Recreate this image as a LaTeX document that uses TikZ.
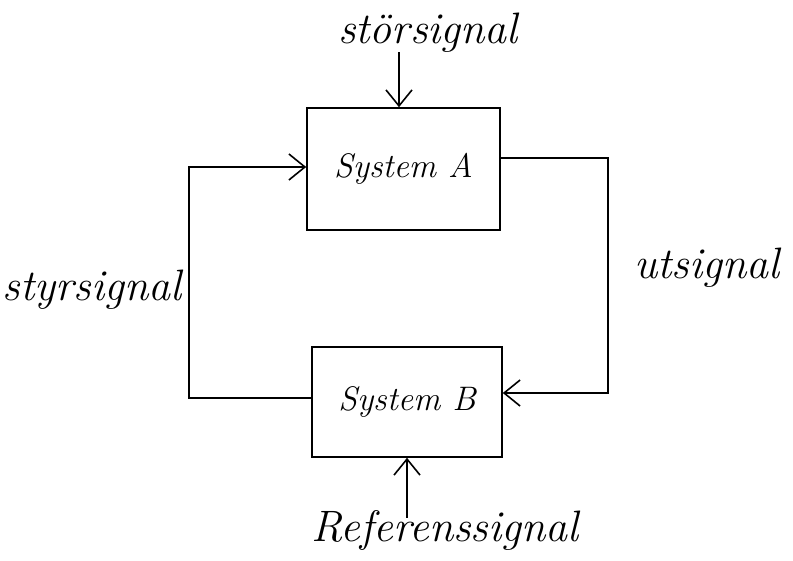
\documentclass[tikz,border=0pt]{standalone}
\usetikzlibrary{arrows.meta,positioning}

\begin{document}
\begin{tikzpicture}[x=1pt,y=-1pt,
    sysbox/.style={draw,line width=1.6pt,inner sep=0pt,
      font=\fontsize{34}{40}\selectfont\itshape},
    sigtext/.style={inner sep=0pt,font=\fontsize{44}{50}\selectfont\itshape},
    sig/.style={line width=1.6pt,
      -{Straight Barb[length=16pt,width=26pt]}}]
    \useasboundingbox (0,0) rectangle (793,560);

    \node[sysbox,minimum width=193pt,minimum height=122pt] (sysA)
      at (403.5,169) {System A};
    \node[sysbox,minimum width=190pt,minimum height=110pt] (sysB)
      at (407,402) {System B};

    \node[sigtext] (stoer) at (428,33) {störsignal};
    \node[sigtext] (ref) at (445,530) {Referenssignal};
    \node[sigtext] (styr) at (92,290) {styrsignal};
    \node[sigtext] (ut) at (707,268) {utsignal};

    \draw[sig] ([xshift=-4.5pt]sysA.north) ++(0,-55) -- ([xshift=-4.5pt]sysA.north);
    \draw[sig] (sysB.south) ++(0,60) -- (sysB.south);
    \draw[sig] ([yshift=11pt]sysA.east) -- ++(107,0)
      |- ([yshift=9pt]sysB.east);
    \draw[sig] ([yshift=4pt]sysB.west) -- ++(-122,0)
      |- ([yshift=2pt]sysA.west);
  \end{tikzpicture}
\end{document}
